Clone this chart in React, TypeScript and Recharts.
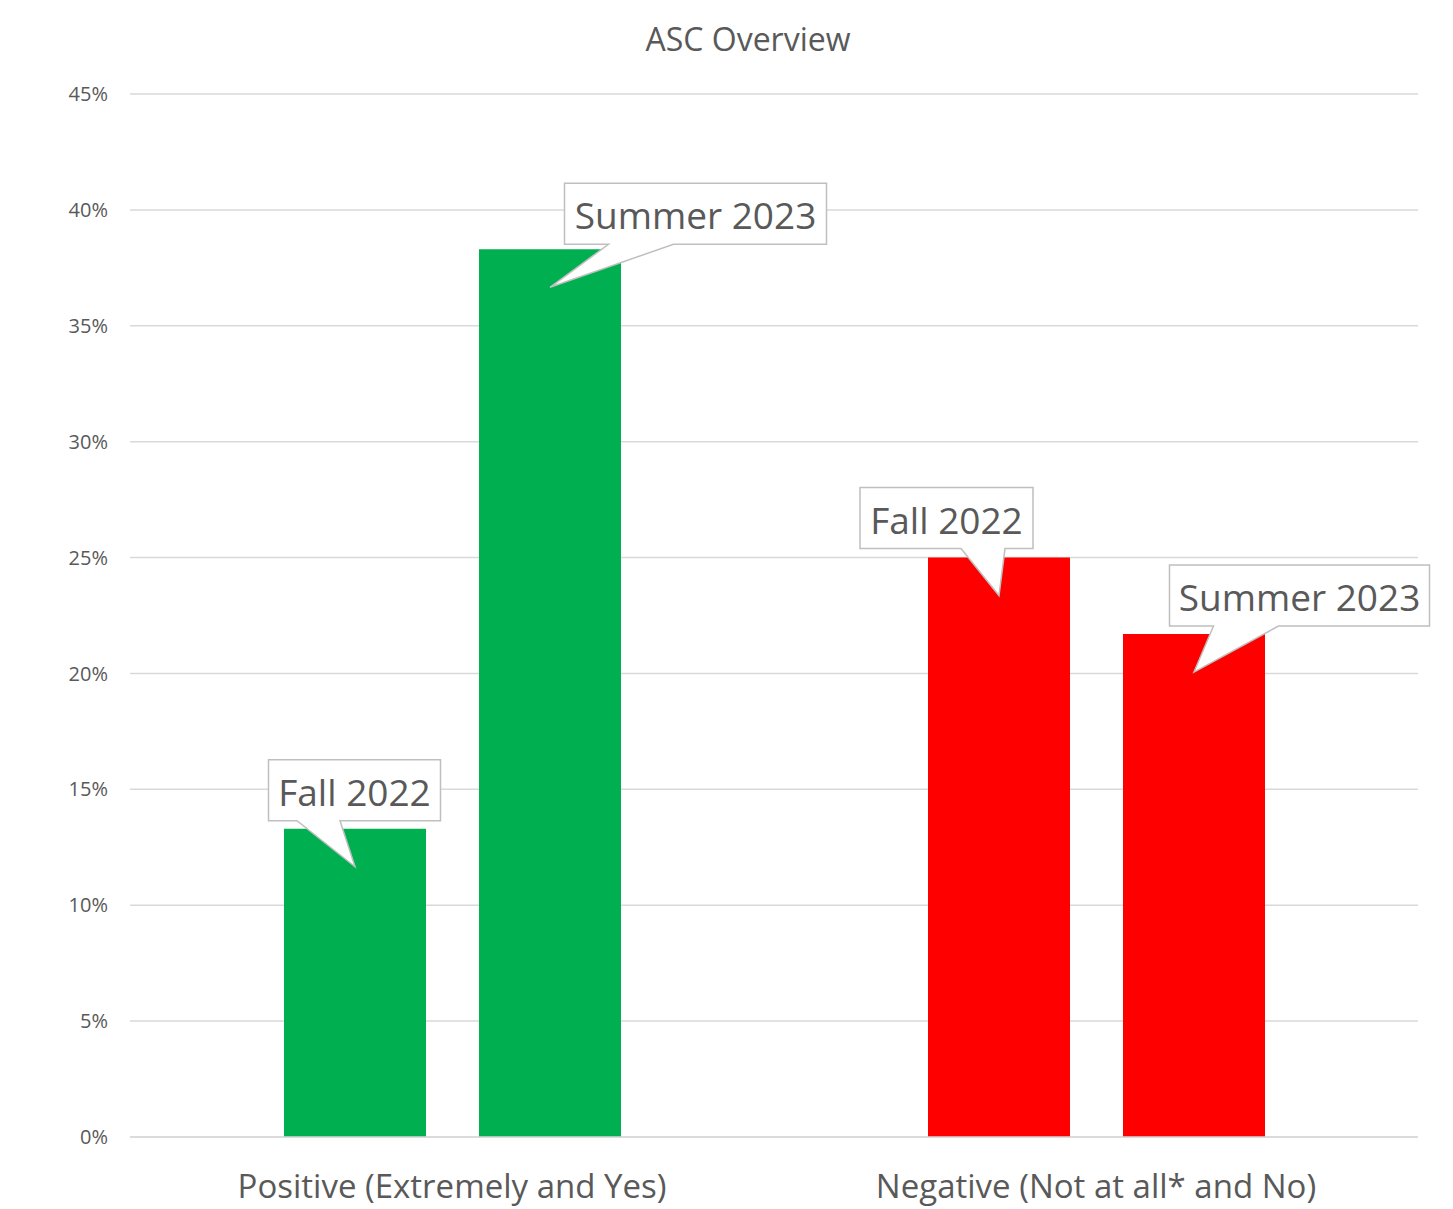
import React from 'react';
import { BarChart, Bar, XAxis, YAxis, CartesianGrid, LabelList, Cell } from 'recharts';

// chart values
const categories = ['Positive (Extremely and Yes)', 'Negative (Not at all* and No)'];
const fall2022 = [13.3, 25.0];
const summer2023 = [38.3, 21.7];
const seriesNames = ['Fall 2022', 'Summer 2023'];
const yTicks = [0, 5, 10, 15, 20, 25, 30, 35, 40, 45];

const categoryColors = ['#00B050', '#FF0000'];
const FONT = "'Open Sans', sans-serif";
const TEXT = '#595959';

const data = categories.map((name, i) => ({ name, fall: fall2022[i], summer: summer2023[i] }));

// callout placement relative to each bar (series -> category)
const calloutLayout = [
  [
    { dx: -0.5, w: 172, gap: 8, b1: -58, b2: -15 },
    { dx: -52.5, w: 173, gap: 9, b1: -38, b2: 6 },
  ],
  [
    { dx: 145.5, w: 262, gap: 5, b1: 58.5, b2: 123.5 },
    { dx: 105.5, w: 260, gap: 8, b1: 19.5, b2: 84.5 },
  ],
];
const BOX_H = 61;
const TIP_DEPTH = 38;

function makeCallout(series: number) {
  return (props: any) => {
    const { x, y, width, index } = props;
    const L = calloutLayout[series][index];
    const cx = Number(x) + Number(width) / 2;
    const top = Number(y);
    const bx = cx + L.dx - L.w / 2;
    const by = top - L.gap - BOX_H;
    const bb = by + BOX_H;
    const d = `M${bx},${by} H${bx + L.w} V${bb} H${cx + L.b2} L${cx},${top + TIP_DEPTH} L${cx + L.b1},${bb} H${bx} Z`;
    return (
      <g>
        <path d={d} fill="#fff" stroke="#bfbfbf" strokeWidth={1.5} strokeLinejoin="miter" />
        <text
          x={bx + L.w / 2}
          y={by + BOX_H / 2 + 1}
          textAnchor="middle"
          dominantBaseline="central"
          fontSize={37}
          fontFamily={FONT}
          fill={TEXT}
        >
          {seriesNames[series]}
        </text>
      </g>
    );
  };
}

const XTick = (props: any) => (
  <text x={props.x} y={props.y + 61} textAnchor="middle" fontSize={33} fontFamily={FONT} fill={TEXT}>
    {props.payload.value}
  </text>
);

export default function App() {
  return (
    <div style={{ position: 'absolute', left: 0, top: 0, width: 1453, height: 1209, background: '#fff' }}>
      <div
        style={{
          position: 'absolute', left: 0, top: 21, width: 1496, textAlign: 'center',
          fontFamily: FONT, fontSize: 32, lineHeight: '36px', color: TEXT,
        }}
      >
        ASC Overview
      </div>
      <BarChart
        width={1453}
        height={1209}
        data={data}
        margin={{ top: 94, right: 35, left: 0, bottom: 0 }}
        barCategoryGap={154}
        barGap={53}
      >
        <CartesianGrid vertical={false} stroke="#d9d9d9" strokeWidth={1.5} />
        <XAxis
          dataKey="name"
          height={72}
          tickLine={false}
          tickSize={0}
          tickMargin={0}
          axisLine={{ stroke: '#d9d9d9', strokeWidth: 1.5 }}
          tick={<XTick />}
        />
        <YAxis
          width={130}
          domain={[0, 45]}
          ticks={yTicks}
          tickFormatter={(v: number) => `${v}%`}
          axisLine={false}
          tickLine={false}
          tickSize={0}
          tickMargin={22}
          tick={{ fontSize: 20, fill: TEXT, fontFamily: FONT }}
        />
        <Bar dataKey="fall" name={seriesNames[0]} isAnimationActive={false}>
          {data.map((_, i) => (
            <Cell key={i} fill={categoryColors[i]} />
          ))}
          <LabelList dataKey="fall" content={makeCallout(0)} />
        </Bar>
        <Bar dataKey="summer" name={seriesNames[1]} isAnimationActive={false}>
          {data.map((_, i) => (
            <Cell key={i} fill={categoryColors[i]} />
          ))}
          <LabelList dataKey="summer" content={makeCallout(1)} />
        </Bar>
      </BarChart>
    </div>
  );
}
